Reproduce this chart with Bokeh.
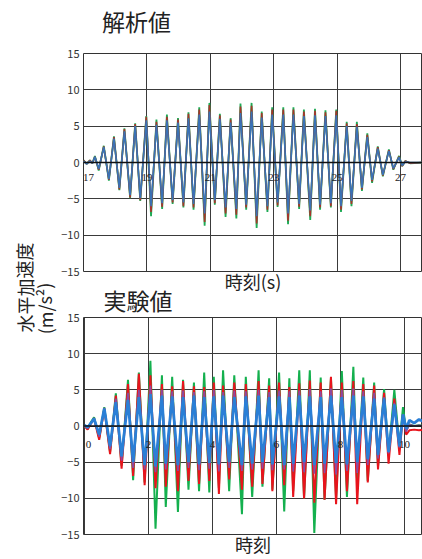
from bokeh.plotting import figure
from bokeh.models import Range1d, FixedTicker, Label, LabelSet, Span, ColumnDataSource, Title
from bokeh.layouts import row, column
from bokeh.embed import file_html
from bokeh.resources import INLINE

# ---------------- data ----------------
top_title = "解析値"
bottom_title = "実験値"
top_xlabel = "時刻(s)"
bottom_xlabel = "時刻"
ylabel_line1 = "水平加速度"
ylabel_line2 = "(m/s²)"

y_ticks = [-15, -10, -5, 0, 5, 10, 15]
top_x_ticks = [17, 19, 21, 23, 25, 27]
top_x_tick_labels = ["17", "19", "21", "23", "25", "27"]
bottom_x_ticks = [0, 2, 4, 6, 8, 10]
bottom_x_tick_labels = ["0", "2", "4", "6", "8", "10"]

# analysis (top) : time of extrema (s) and values (m/s2)
t_top = [17.00, 17.10, 17.20, 17.28, 17.36, 17.48, 17.64, 17.80, 17.96, 18.13,
         18.29, 18.47, 18.63, 18.79, 18.98, 19.13, 19.30, 19.48, 19.63, 19.81,
         19.98, 20.15, 20.31, 20.47, 20.65, 20.82, 20.97, 21.14, 21.30, 21.48,
         21.64, 21.82, 21.95, 22.13, 22.30, 22.46, 22.62, 22.80, 22.95, 23.12,
         23.30, 23.45, 23.62, 23.80, 23.95, 24.15, 24.30, 24.46, 24.63, 24.80,
         24.97, 25.12, 25.30, 25.45, 25.62, 25.78, 25.95, 26.10, 26.28, 26.44,
         26.63, 26.77, 26.95, 27.05, 27.15, 27.30, 27.70]
green_top = [0.3, -0.2, 0.3, -0.1, 0.9, -1.1, 2.3, -2.5, 3.6, -3.8,
             4.7, -4.9, 5.4, -5.3, 6.4, -7.4, 5.9, -6.4, 6.6, -5.7,
             6.1, -6.2, 6.9, -6.5, 7.6, -8.7, 8.2, -5.8, 6.7, -7.5,
             6.1, -7.7, 8.1, -6.5, 8.2, -9.0, 7.0, -6.8, 7.6, -6.1,
             7.6, -8.5, 7.6, -6.4, 7.3, -7.9, 7.4, -6.5, 7.2, -6.2,
             7.3, -6.8, 5.6, -6.0, 5.6, -3.9, 4.0, -2.8, 2.2, -1.9,
             1.8, -1.0, 0.9, -0.5, 0.2, -0.1, 0.0]
red_top = [0.3, -0.2, 0.3, -0.1, 0.8, -1.0, 2.2, -2.4, 3.5, -3.7,
           4.6, -4.8, 5.3, -5.2, 6.3, -6.8, 5.6, -6.1, 6.3, -5.5,
           5.9, -6.0, 6.7, -6.2, 7.3, -8.2, 7.9, -5.6, 6.5, -7.0,
           5.9, -7.2, 7.7, -6.2, 7.8, -8.4, 6.8, -6.5, 7.3, -5.9,
           7.3, -8.0, 7.3, -6.1, 7.0, -7.4, 7.1, -6.2, 6.9, -6.0,
           7.1, -6.5, 5.4, -5.7, 5.3, -3.7, 3.8, -2.6, 2.1, -1.8,
           1.7, -0.9, 0.8, -0.5, 0.2, -0.1, 0.0]
blue_top = [0.2, -0.2, 0.2, -0.1, 0.8, -0.9, 2.1, -2.3, 3.3, -3.5,
            4.3, -4.5, 5.0, -4.9, 5.8, -6.0, 5.2, -5.6, 5.8, -5.2,
            5.5, -5.5, 6.1, -5.7, 6.6, -7.0, 7.0, -5.2, 6.0, -6.2,
            5.5, -6.4, 6.8, -5.8, 7.0, -7.4, 6.2, -6.0, 6.6, -5.5,
            6.6, -7.0, 6.6, -5.7, 6.4, -6.6, 6.5, -5.8, 6.4, -5.6,
            6.5, -6.0, 5.0, -5.3, 4.9, -3.5, 3.5, -2.4, 1.9, -1.7,
            1.6, -0.8, 0.7, -0.4, 0.1, 0.0, 0.0]

# experiment (bottom)
t_bot = [0.00, 0.10, 0.20, 0.30, 0.46, 0.62, 0.80, 0.98, 1.16, 1.36,
         1.52, 1.70, 1.88, 2.06, 2.22, 2.42, 2.54, 2.74, 2.92, 3.08,
         3.25, 3.42, 3.58, 3.74, 3.90, 4.04, 4.20, 4.33, 4.52, 4.68,
         4.92, 5.04, 5.24, 5.44, 5.56, 5.77, 5.87, 6.08, 6.24, 6.40,
         6.52, 6.71, 6.86, 7.04, 7.18, 7.38, 7.50, 7.70, 7.86, 8.04,
         8.20, 8.40, 8.52, 8.71, 8.85, 9.05, 9.17, 9.36, 9.50, 9.68,
         9.84, 9.95, 10.05, 10.15, 10.30, 10.45, 10.60]
green_bot = [0.0, -0.4, 0.5, 1.2, -1.7, 2.6, -3.6, 4.5, -5.5, 6.4,
             -7.5, 7.4, -7.8, 9.0, -14.2, 7.0, -11.2, 6.8, -11.9, 6.4,
             -8.8, 6.0, -9.0, 7.4, -9.2, 6.8, -8.6, 7.7, -9.0, 7.0,
             -12.2, 6.8, -9.8, 7.7, -8.4, 6.6, -8.8, 7.4, -11.8, 6.6,
             -9.0, 7.7, -10.0, 7.7, -14.8, 6.7, -10.2, 6.6, -10.0, 7.6,
             -9.8, 8.2, -8.2, 6.7, -7.6, 6.0, -5.6, 5.1, -4.1, 5.0,
             -2.8, 2.6, -0.6, 0.2, 0.0, 0.1, 0.0]
red_bot = [0.0, -0.5, 0.3, 1.0, -1.9, 2.4, -3.9, 4.2, -5.9, 5.8,
           -6.9, 7.2, -8.2, 7.0, -8.6, 5.8, -8.4, 5.5, -9.0, 6.2,
           -7.6, 5.5, -8.0, 5.4, -7.6, 6.0, -9.4, 5.6, -7.4, 6.0,
           -8.8, 5.8, -8.4, 6.2, -8.0, 5.6, -9.0, 6.0, -8.2, 5.4,
           -9.8, 5.9, -10.0, 6.3, -10.6, 6.0, -10.2, 6.8, -10.8, 6.0,
           -9.0, 6.2, -10.8, 5.8, -7.8, 5.6, -6.0, 4.6, -5.2, 3.8,
           -4.0, 1.6, -1.2, -0.6, -0.5, -0.6, -0.5]
purple_bot = [0.0, -0.3, 0.4, 1.1, -1.5, 2.5, -3.2, 3.8, -4.8, 4.6,
              -5.8, 5.0, -6.0, 5.6, -6.4, 5.0, -6.0, 4.8, -6.2, 4.9,
              -5.8, 4.7, -6.1, 4.8, -5.9, 5.0, -6.3, 4.7, -5.8, 4.9,
              -6.2, 4.8, -6.0, 5.0, -5.9, 4.7, -6.1, 4.9, -6.0, 4.8,
              -6.3, 4.9, -6.4, 5.1, -6.6, 4.8, -6.5, 5.2, -6.7, 5.0,
              -6.2, 5.2, -6.5, 4.8, -5.4, 4.6, -4.5, 4.0, -3.8, 3.2,
              -3.0, 1.4, -0.8, 0.2, 0.0, 0.1, 0.0]
blue_bot = [0.1, -0.2, 0.4, 1.0, -1.2, 2.4, -2.8, 3.3, -4.2, 3.6,
            -5.0, 4.0, -5.4, 4.4, -5.6, 4.2, -5.2, 4.1, -5.4, 4.0,
            -5.0, 4.2, -5.3, 4.0, -5.1, 4.1, -5.3, 4.2, -5.0, 4.0,
            -5.4, 4.1, -5.2, 4.2, -5.0, 4.0, -5.3, 4.1, -5.4, 4.0,
            -5.2, 4.2, -5.0, 4.1, -5.4, 4.0, -5.2, 4.2, -5.1, 4.0,
            -5.3, 4.2, -5.0, 4.1, -4.6, 3.8, -4.0, 3.8, -3.6, 3.0,
            -2.8, 1.6, -0.4, 0.8, 0.4, 0.9, 0.6]

# ---------------- styling ----------------
FONT = "Noto Sans CJK JP"
GRID = "#3a3a3a"
TXT = "#222222"


def text_strip(width, height):
    s = figure(width=width, height=height, x_range=Range1d(0, width),
               y_range=Range1d(height, 0), output_backend="svg", toolbar_location=None,
               min_border=0, min_border_left=0, min_border_right=0,
               min_border_top=0, min_border_bottom=0)
    s.axis.visible = False
    s.grid.visible = False
    s.outline_line_color = None
    s.background_fill_color = "white"
    s.border_fill_color = "white"
    return s


def make_panel(width, height, xr, ticks, tick_labels, tick_label_y, tick_label_dx,
               title, title_offset, title_standoff, xlabel, border_top, border_bottom):
    p = figure(width=width, height=height, x_range=xr, y_range=Range1d(-15, 15),
               output_backend="svg", toolbar_location=None,
               min_border_left=26, min_border_right=0,
               min_border_top=border_top, min_border_bottom=border_bottom)
    if title:
        p.title = Title(text=title, text_font=FONT, text_font_size="23px",
                        text_font_style="normal", text_color=TXT, align="left",
                        offset=title_offset, standoff=title_standoff)
    p.background_fill_color = "white"
    p.border_fill_alpha = 0
    p.outline_line_color = "#333333"
    p.outline_line_width = 1

    p.xaxis.ticker = FixedTicker(ticks=[])
    p.xaxis.axis_line_color = None
    p.xaxis.major_tick_line_color = None
    p.xaxis.minor_tick_line_color = None
    p.xaxis.major_tick_out = 0
    p.xaxis.major_tick_in = 0
    p.xaxis.major_label_standoff = 0
    p.xaxis.axis_label = xlabel
    p.xaxis.axis_label_text_font = FONT
    p.xaxis.axis_label_text_font_size = "18px"
    p.xaxis.axis_label_text_font_style = "normal"
    p.xaxis.axis_label_text_color = TXT
    p.xaxis.axis_label_standoff = -4

    p.yaxis.ticker = FixedTicker(ticks=y_ticks)
    p.yaxis.axis_line_color = None
    p.yaxis.major_tick_line_color = None
    p.yaxis.major_tick_out = 0
    p.yaxis.major_tick_in = 0
    p.yaxis.minor_tick_line_color = None
    p.yaxis.major_label_text_font = FONT
    p.yaxis.major_label_text_font_size = "11px"
    p.yaxis.major_label_text_color = "#333333"
    p.yaxis.major_label_standoff = 4

    p.xgrid.ticker = FixedTicker(ticks=ticks)
    p.xgrid.grid_line_color = GRID
    p.xgrid.grid_line_width = 1
    p.ygrid.ticker = FixedTicker(ticks=y_ticks)
    p.ygrid.grid_line_color = GRID
    p.ygrid.grid_line_width = 1

    src = ColumnDataSource(dict(x=ticks, y=[tick_label_y] * len(ticks), t=tick_labels,
                                dx=tick_label_dx))
    p.add_layout(LabelSet(x="x", y="y", text="t", source=src, x_offset="dx",
                          text_font=FONT, text_font_size="11px", text_color=TXT,
                          text_align="center", text_baseline="middle"))
    return p


# title strip above the top panel: canvas y 0..40
head = text_strip(365, 40)
head.add_layout(Label(x=20, y=20, text=top_title, text_font=FONT, text_font_size="23px",
                      text_color=TXT, text_align="left", text_baseline="middle"))

# top panel: canvas y 40..296, frame 53..272
top = make_panel(365, 256, Range1d(17, 27.69), top_x_ticks, top_x_tick_labels, -2.05,
                 [5, 0, 0, 0, 0, 0], None, 0, 0, top_xlabel, 13, 24)
top.line(t_top, green_top, line_color="#1faa55", line_width=1.8)
top.line(t_top, red_top, line_color="#a8342a", line_width=1.6)
top.line(t_top, blue_top, line_color="#3a72b5", line_width=1.6)
top.add_layout(Span(location=0, dimension="width", line_color="#111111", line_width=1.5))

# bottom panel: canvas y 280..559 (pulled up over the top panel's lower border), frame 316..535
bot = make_panel(365, 279, Range1d(-0.03, 10.56), bottom_x_ticks, bottom_x_tick_labels, -2.5,
                 [4, 0, 0, 0, 0, 0], bottom_title, 20, 1, bottom_xlabel, 36, 24)
bot.margin = (-16, 0, 0, 0)
bot.line(t_bot, green_bot, line_color="#14b04e", line_width=2)
bot.line(t_bot, red_bot, line_color="#e8141c", line_width=2)
bot.line(t_bot, purple_bot, line_color="#8c4aa0", line_width=1.6)
bot.line(t_bot, blue_bot, line_color="#2a7fd6", line_width=2.8)
bot.add_layout(Span(location=0, dimension="width", line_color="#111111", line_width=1.5))

# shared y-axis label strip (x: px from its left, y: px from the page top)
lab = text_strip(57, 559)
lab.add_layout(Label(x=24, y=287, text=ylabel_line1, angle=1.5708,
                     text_font=FONT, text_font_size="18px", text_color=TXT,
                     text_align="center", text_baseline="middle"))
lab.add_layout(Label(x=44, y=308, text=ylabel_line2, angle=1.5708,
                     text_font=FONT, text_font_size="18px", text_color=TXT,
                     text_align="center", text_baseline="middle"))

layout = row(lab, column(head, top, bot))
open("out.html", "w").write(file_html(layout, INLINE))
